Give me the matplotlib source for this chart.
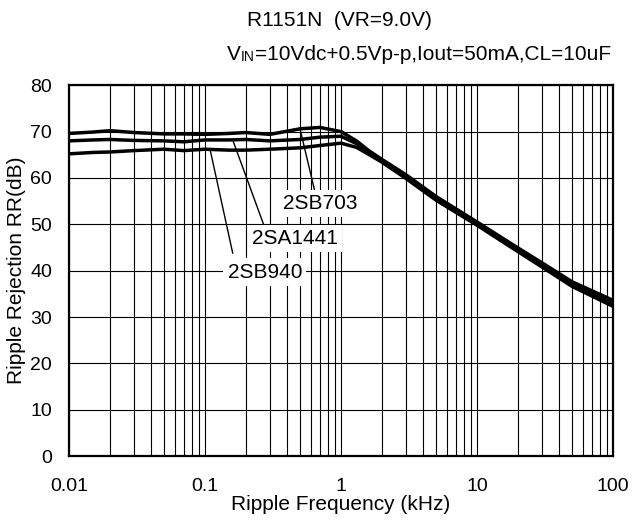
import matplotlib
matplotlib.use("Agg")
import matplotlib.pyplot as plt
import numpy as np

plt.rcParams['font.family'] = ['Liberation Sans', 'DejaVu Sans']

# ripple frequency (kHz) and rejection (dB)
freq = [0.01, 0.015, 0.02, 0.03, 0.05, 0.07, 0.1, 0.15, 0.2, 0.3, 0.5, 0.7,
        1.0, 1.3, 1.6, 2.0, 3.0, 5.0, 10.0, 20.0, 30.0, 50.0, 100.0]
rr_2sb703 = [69.6, 69.9, 70.2, 69.8, 69.5, 69.5, 69.4, 69.6, 69.8, 69.4, 70.6, 70.9,
             70.0, 68.0, 65.9, 64.0, 60.7, 56.0, 50.5, 44.9, 41.7, 37.6, 33.6]
rr_2sa1441 = [68.0, 68.2, 68.3, 68.1, 68.0, 67.8, 68.2, 68.2, 68.3, 68.0, 68.3, 68.8,
              69.0, 67.4, 65.5, 63.7, 60.3, 55.6, 50.1, 44.5, 41.2, 37.0, 32.9]
rr_2sb940 = [65.2, 65.5, 65.6, 65.9, 66.2, 65.9, 66.2, 66.0, 66.0, 66.2, 66.5, 67.0,
             67.5, 66.6, 65.1, 63.4, 59.9, 55.2, 49.8, 44.1, 40.8, 36.6, 32.3]

series = [rr_2sb703, rr_2sa1441, rr_2sb940]
names = ['2SB703', '2SA1441', '2SB940']
# label text position and the curve point each leader touches
label_xy = [(0.70, 54.5), (0.46, 47.0), (0.276, 39.7)]
leader_from = [(0.5, 70.6), (0.16, 68.2), (0.109, 66.2)]
leader_to = [(0.64, 57.3), (0.276, 49.2), (0.16, 43.8)]

fig = plt.figure(figsize=(6.32, 5.23), dpi=100)
ax = fig.add_axes([0.109, 0.128, 0.861, 0.709])

for rr in series:
    ax.plot(freq, rr, color='black', lw=2.5, solid_joinstyle='round', zorder=3)

ax.set_xscale('log')
ax.set_xlim(0.01, 100)
ax.set_ylim(0, 80)
ax.set_yticks(np.arange(0, 81, 10))
ax.set_xticks([0.01, 0.1, 1, 10, 100])
ax.set_xticklabels(['0.01', '0.1', '1', '10', '100'])
ax.grid(True, which='both', axis='x', color='black', lw=0.8)
ax.grid(True, which='major', axis='y', color='black', lw=0.8)
ax.tick_params(axis='both', which='both', length=0, labelsize=14)
ax.tick_params(axis='x', pad=16)
ax.tick_params(axis='y', pad=12)
for sp in ax.spines.values():
    sp.set_linewidth(1.6)

ax.set_xlabel('Ripple Frequency (kHz)', fontsize=15, labelpad=0)
ax.set_ylabel('Ripple Rejection RR(dB)', fontsize=15, labelpad=3)

for name, lxy, p0, p1 in zip(names, label_xy, leader_from, leader_to):
    ax.plot([p0[0], p1[0]], [p0[1], p1[1]], color='black', lw=1.0, zorder=2)
    ax.text(lxy[0], lxy[1], name, fontsize=15, ha='center', va='center', zorder=4,
            bbox=dict(facecolor='white', edgecolor='none', pad=3))

fig.text(0.391, 0.960, 'R1151N  (VR=9.0V)', fontsize=15, ha='left', va='center')
t1 = fig.text(0.359, 0.885, 'V', fontsize=15, ha='left', va='baseline')
t2 = ax.annotate('IN', xy=(1, 0), xycoords=t1, fontsize=10, ha='left', va='bottom',
                 annotation_clip=False)
ax.annotate('=10Vdc+0.5Vp-p,Iout=50mA,CL=10uF', xy=(1, 0), xycoords=t2, fontsize=15,
            ha='left', va='bottom', annotation_clip=False)

fig.savefig('out.png', dpi=100)
